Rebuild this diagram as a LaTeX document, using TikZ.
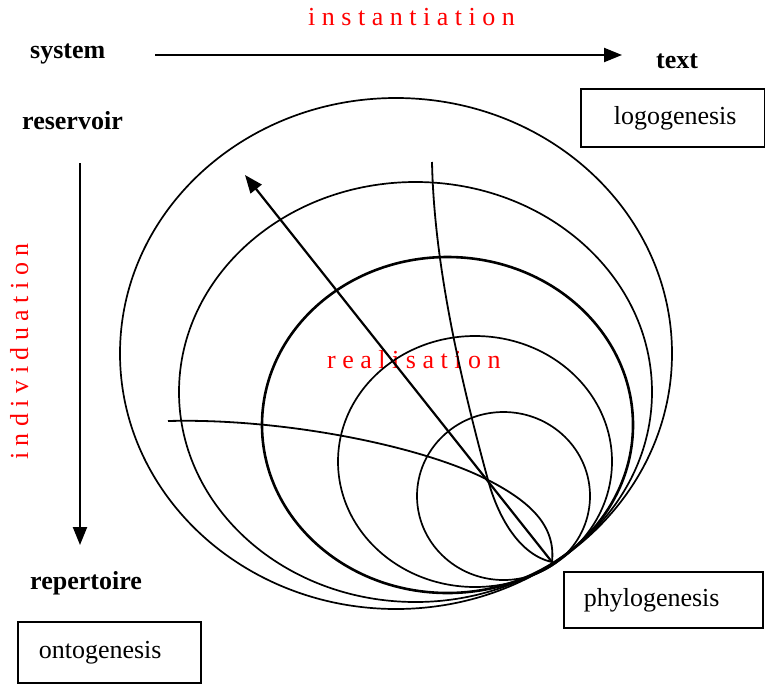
\documentclass[tikz,border=0pt]{standalone}
\usepackage{fontspec}
\setmainfont{Liberation Serif}
\usetikzlibrary{arrows.meta}
\begin{document}
\begin{tikzpicture}[x=1pt,y=-1pt,
  lbl/.style={inner sep=0pt, anchor=base west, font=\fontsize{26}{30}\selectfont},
  blbl/.style={lbl, font=\fontsize{26}{30}\selectfont\bfseries},
  rlbl/.style={lbl, text=red},
  box/.style={draw, line width=1.6pt, inner xsep=0pt, inner ysep=0pt, anchor=north west, align=left, font=\fontsize{26}{30}\selectfont},
  ring/.style={line width=1.7pt},
  thickring/.style={line width=2.6pt},
  curveline/.style={line width=1.8pt},
  arr/.style={line width=2.2pt, -{Triangle[length=18pt,width=14pt]}}
]
\useasboundingbox (0,0) rectangle (765,683);

% texts
\node[blbl] (system) at (30,58) {system};
\node[blbl] (text) at (656,68) {text};
\node[blbl] (reservoir) at (22,129) {reservoir};
\node[blbl] (repertoire) at (30,589) {repertoire};
\node[rlbl] (inst) at (308,25) {i n s t a n t i a t i o n};
\node[rlbl] (real) at (327,368) {r e a l i s a t i o n};
\node[rlbl, rotate=90] (indiv) at (28,460) {i n d i v i d u a t i o n};

% boxes
\node[box, text width=184pt, minimum height=58pt] (logo) at (580,88) {\hspace*{33pt}logogenesis};
\node[box, text width=199pt, minimum height=56pt] (phylo) at (563,571) {\hspace*{20pt}phylogenesis};
\node[box, text width=183pt, minimum height=61pt] (onto) at (17,621) {\hspace*{21pt}ontogenesis};

% ellipses
\draw[ring] (396,353.5) ellipse [x radius=276pt, y radius=255.5pt];
\draw[ring] (415.5,392) ellipse [x radius=236.5pt, y radius=210pt];
\draw[thickring] (447.5,425) ellipse [x radius=185.5pt, y radius=168pt];
\draw[ring] (475,461.5) ellipse [x radius=137pt, y radius=125.5pt];
\draw[ring] (503.5,496) ellipse [x radius=86.5pt, y radius=84pt];

% curves
\coordinate (T) at (552,562);
\coordinate (X) at (488,480);
\draw[curveline] (432,162) .. controls (434,260) and (458,370) .. (X)
  .. controls (498.5,518.5) and (520,555) .. (T);
\draw[curveline] (168,421) .. controls (280,418) and (420,445) .. (X)
  .. controls (529,501) and (556,525) .. (T);

% arrows
\coordinate (instA) at (155,55);
\coordinate (instB) at (622,55);
\draw[arr] (instA) -- (instB);
\coordinate (indA) at (80,163);
\coordinate (indB) at (80,545);
\draw[arr] (indA) -- (indB);
\coordinate (R) at (245,175);
\draw[arr] (T) -- (R);
\end{tikzpicture}
\end{document}
